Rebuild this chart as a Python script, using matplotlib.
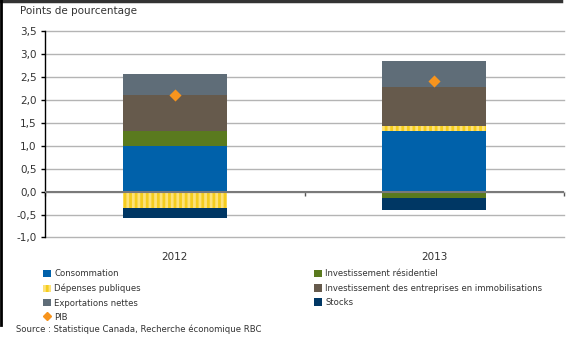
import numpy as np
import matplotlib
matplotlib.use("Agg")
import matplotlib.pyplot as plt
from matplotlib.lines import Line2D

# Contributions à la croissance du PIB (points de pourcentage)
years = ["2012", "2013"]
consommation = [0.99, 1.32]
residentiel = [0.34, -0.15]
depenses = [-0.36, 0.10]
entreprises = [0.77, 0.85]
exportations = [0.46, 0.57]
stocks = [-0.21, -0.24]
pib = [2.10, 2.42]

yticks = [-1.0, -0.5, 0.0, 0.5, 1.0, 1.5, 2.0, 2.5, 3.0, 3.5]

plt.rcParams['font.family'] = ['DejaVu Sans']
plt.rcParams['hatch.linewidth'] = 2.0
txt = '#333333'

fig = plt.figure(figsize=(5.71, 3.37), dpi=100)
ax = fig.add_axes([45 / 571, 1 - 237.5 / 337, 519 / 571, 206.5 / 337])

series = [
    (consommation, '#0061aa', None, 'Consommation'),
    (residentiel, '#5a7a1e', None, 'Investissement résidentiel'),
    (depenses, '#fde27a', '|||', 'Dépenses publiques'),
    (entreprises, '#665a4c', None, 'Investissement des entreprises en immobilisations'),
    (exportations, '#5f6d78', None, 'Exportations nettes'),
    (stocks, '#003764', None, 'Stocks'),
]

x = np.arange(len(years))
pos_base = np.zeros(len(years))
neg_base = np.zeros(len(years))
handles = {}
for vals, col, hatch, name in series:
    vals = np.array(vals)
    base = np.where(vals >= 0, pos_base, neg_base)
    bars = ax.bar(x, vals, 0.4, bottom=base, color=col, linewidth=0, zorder=3,
                  hatch=hatch, edgecolor='#f5cd1e' if hatch else col)
    handles[name] = bars
    pos_base += np.where(vals >= 0, vals, 0)
    neg_base += np.where(vals < 0, vals, 0)

ax.scatter(x, pib, marker='D', s=38, color='#f7941d', zorder=5, linewidths=0)

ax.set_xlim(-0.5, 1.5)
ax.set_ylim(-1.0, 3.5)
ax.set_yticks(yticks)
ax.set_yticklabels([f"{v:.1f}".replace('.', ',') for v in yticks], fontsize=7.5, color=txt)
ax.yaxis.grid(True, color='#b4b4b4', linewidth=1.0, zorder=0)
for gl in ax.get_ygridlines():
    gl.set_clip_on(False)
ax.axhline(0, color='#7a7a7a', linewidth=1.5, zorder=4)
ax.tick_params(axis='y', length=3, width=1, color='black', pad=3)

for s in ['top', 'right']:
    ax.spines[s].set_visible(False)
ax.spines['left'].set_color('black')
ax.spines['left'].set_linewidth(1)
ax.spines['bottom'].set_position(('data', 0))
ax.spines['bottom'].set_visible(False)
ax.set_xticks([-0.5, 0.5, 1.5])
ax.set_xticklabels([])
ax.tick_params(axis='x', length=3, width=1, color='#555555', direction='out')

for xi, yr in zip(x, years):
    ax.text(xi, -1.32, yr, ha='center', va='top', fontsize=7.5, color=txt)

fig.text(20 / 571, 1 - 11 / 337, "Points de pourcentage", fontsize=7.5, color=txt,
         ha='left', va='center')

leg_kw = dict(frameon=False, fontsize=6.1, handlelength=1.0, handleheight=1.0,
              handletextpad=0.35, labelspacing=0.62, borderpad=0, borderaxespad=0,
              labelcolor=txt)
pib_handle = Line2D([], [], marker='D', color='#f7941d', linestyle='none', markersize=4)
left_names = ['Consommation', 'Dépenses publiques', 'Exportations nettes']
right_names = ['Investissement résidentiel',
               'Investissement des entreprises en immobilisations', 'Stocks']
fig.legend([handles[n] for n in left_names] + [pib_handle], left_names + ['PIB'],
           loc='upper left', bbox_to_anchor=(43 / 571, 1 - 269.5 / 337), **leg_kw)
fig.legend([handles[n] for n in right_names], right_names,
           loc='upper left', bbox_to_anchor=(314 / 571, 1 - 269.5 / 337), **leg_kw)

fig.text(16 / 571, 1 - 329 / 337, "Source : Statistique Canada, Recherche économique RBC",
         fontsize=6.1, color=txt, ha='left', va='center')

# cadre
fig.add_artist(Line2D([0, 561 / 571], [1 - 1 / 337, 1 - 1 / 337], color='#333333', linewidth=2.5))
fig.add_artist(Line2D([1 / 571, 1 / 571], [1, 1 - 325 / 337], color='black', linewidth=2))

fig.savefig("out.png", dpi=100)
